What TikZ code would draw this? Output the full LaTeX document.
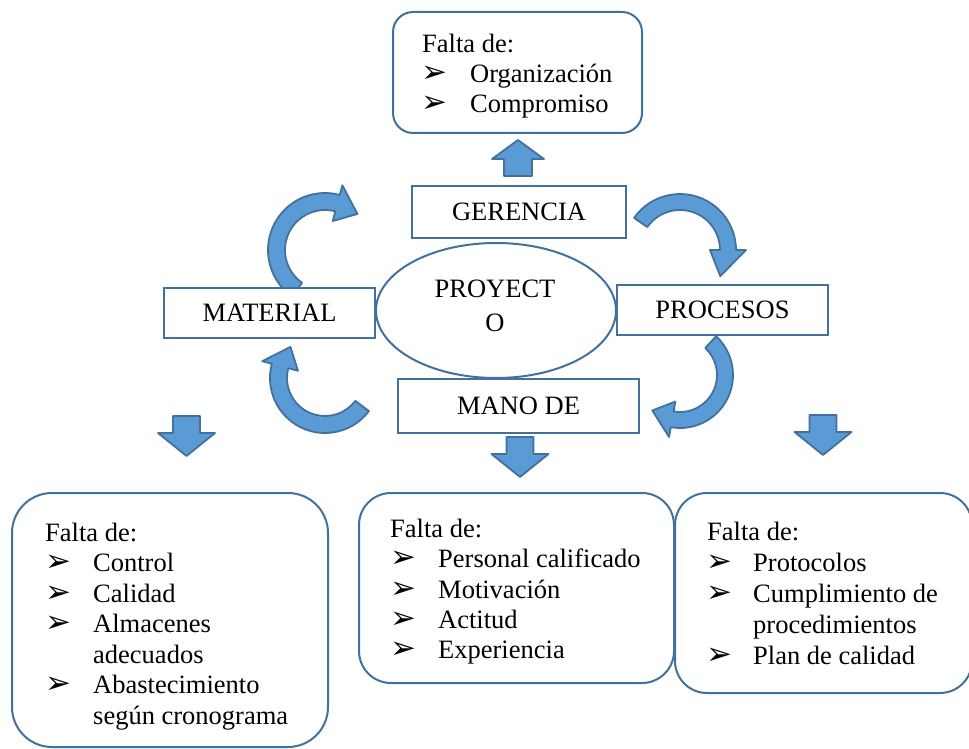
\documentclass[tikz,border=0pt]{standalone}
\usepackage{fontspec}
\usetikzlibrary{shapes.geometric}
\setmainfont{Liberation Serif}
\newfontfamily\dvfont{DejaVu Sans}
\definecolor{bord}{HTML}{41719C}
\definecolor{fillb}{HTML}{5B9BD5}
\newcommand\CurvArr[8]{%
  \begin{scope}[shift={(#1,#2)}]
    \pgfmathsetmacro\cAro{#3}\pgfmathsetmacro\cAri{#4}%
    \pgfmathsetmacro\cArob{#3+#8}\pgfmathsetmacro\cArib{#4-#8}%
    \pgfmathsetmacro\cArm{(#3+#4)/2}%
    \draw[carrow] (#5:\cAro) arc[start angle=#5,end angle=#6,radius=\cAro]
      -- (#6:\cArob) -- (#7:\cArm) -- (#6:\cArib) -- (#6:\cAri)
      arc[start angle=#6,end angle=#5,radius=\cAri] -- cycle;
  \end{scope}}
\begin{document}
\begin{tikzpicture}[x=1pt,y=1pt,
  box/.style={draw=bord,line width=2pt,fill=white,inner sep=0,outer sep=0},
  carrow/.style={draw=bord,fill=fillb,line width=1.8pt,line join=round},
  txt/.style={anchor=base west,inner sep=0,font=\fontsize{26.5}{31}\selectfont},
  ctxt/.style={anchor=base,inner sep=0,font=\fontsize{26.5}{31}\selectfont},
  bul/.style={anchor=base west,inner sep=0,font=\dvfont\fontsize{31}{32}\selectfont},
  darr/.pic={\draw[carrow] (-13.5,0) -- (13.5,0) -- (13.5,-17) -- (28.5,-17) -- (0,-40) -- (-28.5,-17) -- (-13.5,-17) -- cycle;},
  uarr/.pic={\draw[carrow] (-14,0) -- (14,0) -- (14,17) -- (26,17) -- (0,36) -- (-26,17) -- (-14,17) -- cycle;}
]
\useasboundingbox (0,0) rectangle (969,-749);
\fill[white] (0,0) rectangle (969,-749);

% curved arrows
\CurvArr{325}{-250}{57}{40}{235}{75}{48}{10}
\CurvArr{680}{-250}{56}{40}{145}{0}{-33}{10}
\CurvArr{325}{-378}{55}{38}{-37}{-195}{-222}{10}
\CurvArr{680}{-375}{53}{37}{47}{-100}{-128}{10}

% block arrows
\pic at (518,-176) {uarr};
\pic at (186.5,-416) {darr};
\pic at (520,-437) {darr};
\pic at (823,-415) {darr};

% central shapes
\node[box,ellipse,minimum width=240,minimum height=135] (proy) at (496,-310.5) {};
\node[ctxt] (proy1) at (495,-297) {PROYECT};
\node[ctxt] (proy2) at (495,-331) {O};

\node[box,minimum width=214,minimum height=52,font=\fontsize{26.5}{31}\selectfont] (ger) at (519,-212) {GERENCIA};
\node[box,minimum width=211,minimum height=50,font=\fontsize{26.5}{31}\selectfont] (mat) at (269.5,-313) {MATERIAL};
\node[box,minimum width=211,minimum height=50,font=\fontsize{26.5}{31}\selectfont] (proc) at (722.5,-310) {PROCESOS};
\node[box,minimum width=241,minimum height=54,font=\fontsize{26.5}{31}\selectfont] (mano) at (518.5,-406) {MANO DE};

% top box
\node[box,rounded corners=20,minimum width=249,minimum height=121] (topb) at (517.5,-72.5) {};
\node[txt] (t0) at (422,-53) {Falta de:};
\node[bul] (tb1) at (421,-83) {➢};
\node[txt] (t1) at (470,-83) {Organización};
\node[bul] (tb2) at (421,-113) {➢};
\node[txt] (t2) at (470,-113) {Compromiso};

% bottom left box
\node[box,rounded corners=40,minimum width=316,minimum height=254] (lb) at (170,-620) {};
\node[txt] (l0) at (45,-541) {Falta de:};
\node[bul] (lb1) at (45,-571.5) {➢};
\node[txt] (l1) at (93,-571.5) {Control};
\node[bul] (lb2) at (45,-602) {➢};
\node[txt] (l2) at (93,-602) {Calidad};
\node[bul] (lb3) at (45,-632.5) {➢};
\node[txt] (l3) at (93,-632.5) {Almacenes};
\node[txt] (l4) at (93,-663) {adecuados};
\node[bul] (lb5) at (45,-693.5) {➢};
\node[txt] (l5) at (93,-693.5) {Abastecimiento};
\node[txt] (l6) at (93,-724) {según cronograma};

% bottom middle box
\node[box,rounded corners=32,minimum width=315,minimum height=190] (mb) at (516.5,-588) {};
\node[txt] (m0) at (390,-537) {Falta de:};
\node[bul] (mb1) at (390,-567.5) {➢};
\node[txt] (m1) at (438,-567.5) {Personal calificado};
\node[bul] (mb2) at (390,-598) {➢};
\node[txt] (m2) at (438,-598) {Motivación};
\node[bul] (mb3) at (390,-628) {➢};
\node[txt] (m3) at (438,-628) {Actitud};
\node[bul] (mb4) at (390,-658.5) {➢};
\node[txt] (m4) at (438,-658.5) {Experiencia};

% bottom right box
\node[box,rounded corners=32,minimum width=297,minimum height=200] (rb) at (823.5,-593) {};
\node[txt] (r0) at (707,-540) {Falta de:};
\node[bul] (rb1) at (706,-571.5) {➢};
\node[txt] (r1) at (753,-571.5) {Protocolos};
\node[bul] (rb2) at (706,-602.5) {➢};
\node[txt] (r2) at (753,-602.5) {Cumplimiento de};
\node[txt] (r3) at (753,-633) {procedimientos};
\node[bul] (rb4) at (706,-664.5) {➢};
\node[txt] (r4) at (753,-664.5) {Plan de calidad};
\end{tikzpicture}
\end{document}
